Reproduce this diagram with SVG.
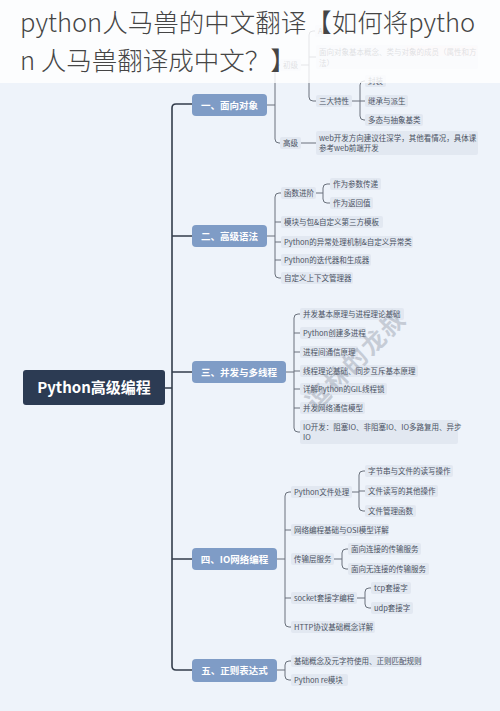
<svg xmlns="http://www.w3.org/2000/svg" width="500" height="711" viewBox="0 0 500 711">
<style>
text{font-family:"Noto Sans CJK SC","Noto Sans",sans-serif}
.t{font-size:7.5px;fill:#4a5262}
.b{fill:#e2e8f1}
.br{fill:#7f9cc6}
.bt{fill:#fff;font-weight:bold;font-size:9.5px;text-anchor:middle}
.c{fill:none;stroke:#6a717c;stroke-width:1}
.s{fill:none;stroke:#333d4b;stroke-width:1.6}
</style>
<rect width="500" height="711" fill="#eef3fa"/>

<g id="connectors">
<path class="s" d="M192,104 H176 Q172,104 172,108 V666 Q172,670 176,670 H192 M172,236 H192 M172,372 H192 M172,559 H192 M165,388 H172"/>
<!-- branch 1 -->
<path class="c" d="M267,105 H275 M281,65 H279 Q275,65 275,69 V139 Q275,143 279,143 H281"/>
<path class="c" d="M300,65 H309 M316,31 H313 Q309,31 309,35 V97 Q309,101 313,101 H316 M309,57 H316"/>
<path class="c" d="M351,101 H360 M366,81 H364 Q360,81 360,85 V116 Q360,120 364,120 H366 M360,101 H366"/>
<path class="c" d="M300,143 H316"/>
<!-- branch 2 -->
<path class="c" d="M267,236 H275 M281,193 H279 Q275,193 275,197 V274 Q275,278 279,278 H281 M275,222 H281 M275,242 H281 M275,260 H281"/>
<path class="c" d="M316,193 H323 M330,184 H327 Q323,184 323,188 V199 Q323,203 327,203 H330"/>
<!-- branch 3 -->
<path class="c" d="M286,372 H294 M300,314 H298 Q294,314 294,318 V428 Q294,432 298,432 H300 M294,333 H300 M294,352 H300 M294,371 H300 M294,389 H300 M294,408 H300"/>
<!-- branch 4 -->
<path class="c" d="M277,559 H285 M291,492 H289 Q285,492 285,496 V623 Q285,627 289,627 H291 M285,530 H291 M285,598 H291"/>
<path class="c" d="M352,492 H359 M365,471 H363 Q359,471 359,475 V507 Q359,511 363,511 H365 M359,491 H365"/>
<path class="c" d="M334,559 H342 M348,549 H346 Q342,549 342,553 V565 Q342,569 346,569 H348"/>
<path class="c" d="M357,598 H365 M371,588 H369 Q365,588 365,592 V604 Q365,608 369,608 H371"/>
<!-- branch 5 -->
<path class="c" d="M277,670 H285 M291,661 H289 Q285,661 285,665 V676 Q285,680 289,680 H291"/>
</g>

<g id="root">
<rect x="23" y="370" width="142" height="35" rx="3" fill="#2c3b53"/>
<text x="94" y="393" font-size="15" font-weight="bold" fill="#fff" text-anchor="middle">Python高级编程</text>
</g>

<g id="b1">
<rect class="br" x="192" y="94" width="75" height="22" rx="4"/>
<text class="bt" x="229.5" y="108.5">一、面向对象</text>
<rect class="b" x="280" y="59" width="21" height="12" rx="2"/><text class="t" x="283" y="67.7">初级</text>
<rect class="b" x="280" y="137" width="21" height="12" rx="2"/><text class="t" x="283" y="145.7">高级</text>
<rect class="b" x="315" y="25" width="16" height="12" rx="2"/><text class="t" x="318" y="33.7">AD</text>
<rect class="b" x="316" y="45" width="162" height="24" rx="2"/>
<rect x="405" y="46" width="72" height="10" fill="#f6dbe2" opacity="0.6"/>
<text class="t" x="319" y="54.7">面向对象基本概念、类与对象的成员（属性和方</text>
<text class="t" x="319" y="65.7">法）</text>
<rect class="b" x="316" y="95" width="36" height="12" rx="2"/><text class="t" x="319" y="103.7">三大特性</text>
<rect class="b" x="365" y="75" width="21" height="12" rx="2"/><text class="t" x="368" y="83.7">封装</text>
<rect class="b" x="365" y="95" width="43" height="12" rx="2"/><text class="t" x="368" y="103.7">继承与派生</text>
<rect class="b" x="365" y="114" width="58" height="12" rx="2"/><text class="t" x="368" y="122.7">多态与抽象基类</text>
<rect class="b" x="316" y="131" width="162" height="24" rx="2"/>
<text class="t" x="319" y="140.7">web开发方向建议往深学，其他看情况，具体课</text>
<text class="t" x="319" y="151.2">参考web前端开发</text>
</g>

<g id="b2">
<rect class="br" x="192" y="225" width="75" height="22" rx="4"/>
<text class="bt" x="229.5" y="239.5">二、高级语法</text>
<rect class="b" x="281" y="187" width="35" height="12" rx="2"/><text class="t" x="284" y="195.7">函数进阶</text>
<rect class="b" x="330" y="178" width="51" height="12" rx="2"/><text class="t" x="333" y="186.7">作为参数传递</text>
<rect class="b" x="330" y="197" width="43" height="12" rx="2"/><text class="t" x="333" y="205.7">作为返回值</text>
<rect class="b" x="281" y="216" width="102" height="12" rx="2"/><text class="t" x="284" y="224.7">模块与包&amp;自定义第三方模板</text>
<rect class="b" x="281" y="236" width="132" height="12" rx="2"/><text class="t" x="284" y="244.7">Python的异常处理机制&amp;自定义异常类</text>
<rect class="b" x="281" y="254" width="90" height="12" rx="2"/><text class="t" x="284" y="262.7">Python的迭代器和生成器</text>
<rect class="b" x="281" y="272" width="72" height="12" rx="2"/><text class="t" x="284" y="280.7">自定义上下文管理器</text>
</g>

<g id="b3">
<rect class="br" x="192" y="361" width="94" height="22" rx="4"/>
<text class="bt" x="239" y="375.5">三、并发与多线程</text>
<rect class="b" x="300" y="308" width="104" height="12" rx="2"/><text class="t" x="303" y="316.7">并发基本原理与进程理论基础</text>
<rect class="b" x="300" y="327" width="66" height="12" rx="2"/><text class="t" x="303" y="335.7">Python创建多进程</text>
<rect class="b" x="300" y="346" width="58" height="12" rx="2"/><text class="t" x="303" y="354.7">进程间通信原理</text>
<rect class="b" x="300" y="365" width="118" height="12" rx="2"/><text class="t" x="303" y="373.7">线程理论基础、同步互斥基本原理</text>
<rect class="b" x="300" y="383" width="87" height="12" rx="2"/><text class="t" x="303" y="391.7">详解Python的GIL线程锁</text>
<rect class="b" x="300" y="402" width="65" height="12" rx="2"/><text class="t" x="303" y="410.7">并发网络通信模型</text>
<rect class="b" x="300" y="420" width="158" height="24" rx="2"/>
<text class="t" x="303" y="429.7">IO开发：阻塞IO、非阻塞IO、IO多路复用、异步</text>
<text class="t" x="303" y="440.2">IO</text>
</g>

<g id="b4">
<rect class="br" x="192" y="548" width="85" height="22" rx="4"/>
<text class="bt" x="234.5" y="562.5">四、IO网络编程</text>
<rect class="b" x="291" y="486" width="61" height="12" rx="2"/><text class="t" x="294" y="494.7">Python文件处理</text>
<rect class="b" x="365" y="465" width="88" height="12" rx="2"/><text class="t" x="368" y="473.7">字节串与文件的读写操作</text>
<rect class="b" x="365" y="485" width="73" height="12" rx="2"/><text class="t" x="368" y="493.7">文件读写的其他操作</text>
<rect class="b" x="365" y="505" width="51" height="12" rx="2"/><text class="t" x="368" y="513.7">文件管理函数</text>
<rect class="b" x="291" y="524" width="98" height="12" rx="2"/><text class="t" x="294" y="532.7">网络编程基础与OSI模型详解</text>
<rect class="b" x="291" y="553" width="43" height="12" rx="2"/><text class="t" x="294" y="561.7">传输层服务</text>
<rect class="b" x="348" y="543" width="73" height="12" rx="2"/><text class="t" x="351" y="551.7">面向连接的传输服务</text>
<rect class="b" x="348" y="563" width="81" height="12" rx="2"/><text class="t" x="351" y="571.7">面向无连接的传输服务</text>
<rect class="b" x="291" y="592" width="66" height="12" rx="2"/><text class="t" x="294" y="600.7">socket套接字编程</text>
<rect class="b" x="371" y="582" width="40" height="12" rx="2"/><text class="t" x="374" y="590.7">tcp套接字</text>
<rect class="b" x="371" y="602" width="42" height="12" rx="2"/><text class="t" x="374" y="610.7">udp套接字</text>
<rect class="b" x="291" y="621" width="84" height="12" rx="2"/><text class="t" x="294" y="629.7">HTTP协议基础概念详解</text>
</g>

<g id="b5">
<rect class="br" x="192" y="659" width="85" height="23" rx="4"/>
<text class="bt" x="234.5" y="674">五、正则表达式</text>
<rect class="b" x="291" y="655" width="131" height="12" rx="2"/><text class="t" x="294" y="663.7">基础概念及元字符使用、正则匹配规则</text>
<rect class="b" x="291" y="674" width="57" height="12" rx="2"/><text class="t" x="294" y="682.7">Python  re模块</text>
</g>

<text transform="translate(362,366) rotate(-45)" text-anchor="middle" font-size="24" font-weight="bold" fill="#7d8696" opacity="0.35" letter-spacing="2">逗林的龙叔</text>

<rect x="0" y="0" width="500" height="83" fill="#ffffff" opacity="0.82"/>
<g id="title">
<text x="20" y="32" font-size="25.5" font-weight="300" fill="#454545">python人马兽的中文翻译【如何将pytho</text>
<text x="20" y="70" font-size="25.5" font-weight="300" fill="#454545">n 人马兽翻译成中文？】</text>
</g>
</svg>
